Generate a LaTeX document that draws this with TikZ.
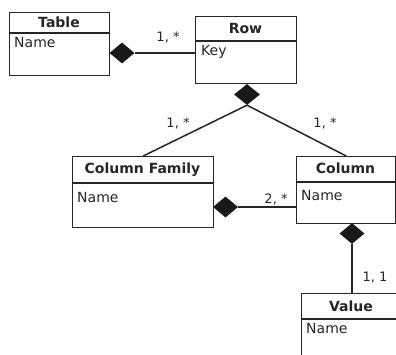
\documentclass[tikz,border=0pt]{standalone}
\usepackage{fontspec}
\setmainfont{DejaVu Sans}
\usetikzlibrary{shapes.geometric}
\tikzset{
  cls/.style={draw=black!85, line width=1.4pt, inner sep=0pt, anchor=north west, fill=white},
  sepline/.style={draw=black!85, line width=1.4pt},
  head/.style={font=\fontsize{14}{15}\selectfont\bfseries, inner sep=0pt, text=black!85},
  attr/.style={font=\fontsize{14}{15}\selectfont, inner sep=0pt, anchor=west, text=black!85},
  comp/.style={diamond, fill=black!90, draw=none, inner sep=0pt, minimum width=25pt, minimum height=21pt},
  conn/.style={draw=black!85, line width=1.5pt},
  mult/.style={font=\fontsize{13}{14}\selectfont, inner sep=0pt, text=black!85}
}
\begin{document}
\begin{tikzpicture}[x=1pt,y=-1pt]
\useasboundingbox (0,0) rectangle (396,355);
% Table
\node[cls, minimum width=100pt, minimum height=63pt] (table) at (9,12) {};
\draw[sepline] ([yshift=-21pt]table.north west) -- ([yshift=-21pt]table.north east);
\node[head] (tableh) at (59,22.5) {Table};
\node[attr] (tablea) at (14,42.5) {Name};
% Row
\node[cls, minimum width=101pt, minimum height=67pt] (row) at (195,16) {};
\draw[sepline] ([yshift=-25pt]row.north west) -- ([yshift=-25pt]row.north east);
\node[head] (rowh) at (245.5,28.5) {Row};
\node[attr] (rowa) at (201,52) {Key};
% Column Family
\node[cls, minimum width=141pt, minimum height=71pt] (cf) at (72,156) {};
\draw[sepline] ([yshift=-27pt]cf.north west) -- ([yshift=-27pt]cf.north east);
\node[head] (cfh) at (142.5,169.5) {Column Family};
\node[attr] (cfa) at (77,197.5) {Name};
% Column
\node[cls, minimum width=99pt, minimum height=67pt] (col) at (296,156) {};
\draw[sepline] ([yshift=-26pt]col.north west) -- ([yshift=-26pt]col.north east);
\node[head] (colh) at (345.5,168.5) {Column};
\node[attr] (cola) at (301,195) {Name};
% Value
\node[cls, minimum width=100pt, minimum height=80pt] (val) at (301,293) {};
\draw[sepline] ([yshift=-26pt]val.north west) -- ([yshift=-26pt]val.north east);
\node[head] (valh) at (351,306) {Value};
\node[attr] (vala) at (306,328) {Name};
% Composition diamonds
\node[comp] (d1) at (122,53) {};
\node[comp, minimum width=26pt] (d2) at (247,94.5) {};
\node[comp] (d3) at (225.5,207) {};
\node[comp] (d4) at (352,233.5) {};
% Connectors
\draw[conn] (d1.east) -- (d1.east -| row.west);
\draw[conn] (d2.south) -- (cf.north);
\draw[conn] (d2.south) -- (col.north);
\draw[conn] (d3.east) -- (d3.east -| col.west);
\draw[conn] (d4.south) -- (d4.south |- val.north);
% Multiplicities
\node[mult] (m1) at (168,37) {1, *};
\node[mult] (m2) at (178,123) {1, *};
\node[mult] (m3) at (325,123) {1, *};
\node[mult] (m4) at (276,199) {2, *};
\node[mult] (m5) at (375,278) {1, 1};
\end{tikzpicture}
\end{document}
